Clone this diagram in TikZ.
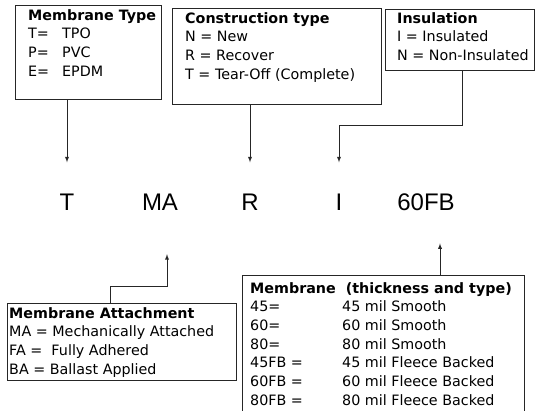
\documentclass[tikz,border=0pt]{standalone}
\usepackage{fontspec}
\setmainfont{DejaVu Sans}
\newfontfamily\codefont{Liberation Sans}
\usetikzlibrary{arrows,calc}

\tikzset{
  legend/.style={draw=black!85, line width=0.9pt, anchor=north west, inner sep=0pt},
  entry/.style={anchor=base west, inner sep=0pt, font=\fontsize{14.3}{18.7}\selectfont},
  code/.style={anchor=base, inner sep=0pt, font=\codefont\fontsize{24}{28}\selectfont},
  link/.style={draw=black!85, line width=0.9pt},
  pointer/.style={link, -latex}
}

\begin{document}
\begin{tikzpicture}[x=1pt,y=-1pt]
  \clip (0,0) rectangle (538,410);
  % the code letters
  \node[code] (t) at (67,210) {T};
  \node[code] (ma) at (160,210) {MA};
  \node[code] (r) at (250,210) {R};
  \node[code] (i) at (339,210) {I};
  \node[code] (fb) at (426,210) {60FB};
  % legend boxes
  \node[legend, minimum width=146pt, minimum height=94pt] (tbox) at (15,5) {};
  \node[legend, minimum width=209pt, minimum height=96pt] (rbox) at (172,8) {};
  \node[legend, minimum width=149pt, minimum height=61pt] (ibox) at (385,9) {};
  \node[legend, minimum width=229pt, minimum height=77pt] (mabox) at (7,303) {};
  \node[legend, minimum width=282pt, minimum height=150pt] (fbbox) at (242,275) {};
  % legend texts
  \node[entry] (ttext) at (28,20) {\begin{tabular}[t]{@{}p{34pt}@{}l@{}}
    \multicolumn{2}{@{}l@{}}{\textbf{Membrane Type}}\\
    T= & TPO\\ P= & PVC\\ E= & EPDM
  \end{tabular}};
  \node[entry] (rtext) at (185,23) {\begin{tabular}[t]{@{}l@{}}
    \textbf{Construction type}\\
    N = New\\ R = Recover\\ T = Tear-Off (Complete)
  \end{tabular}};
  \node[entry] (itext) at (397,23) {\begin{tabular}[t]{@{}l@{}}
    \textbf{Insulation}\\
    I = Insulated\\ N = Non-Insulated
  \end{tabular}};
  \node[entry] (matext) at (9,318) {\begin{tabular}[t]{@{}l@{}}
    \textbf{Membrane Attachment}\\
    MA = Mechanically Attached\\ FA = \ Fully Adhered\\ BA = Ballast Applied
  \end{tabular}};
  \node[entry] (fbtext) at (250,293) {\begin{tabular}[t]{@{}p{92pt}@{}l@{}}
    \multicolumn{2}{@{}l@{}}{\textbf{Membrane \ (thickness and type)}}\\
    45= & 45 mil Smooth\\ 60= & 60 mil Smooth\\ 80= & 80 mil Smooth\\
    45FB = & 45 mil Fleece Backed\\ 60FB = & 60 mil Fleece Backed\\
    80FB = & 80 mil Fleece Backed
  \end{tabular}};
  % connectors
  \draw[pointer] (tbox.south -| t) -- ([yshift=31pt]t.north);
  \draw[pointer] (rbox.south -| r) -- ([yshift=31pt]r.north);
  \draw[pointer] ($(ibox.south west)+(77,0)$) |- ($(i.north)+(0,-68)$) -- ([yshift=31pt]i.north);
  \draw[pointer] ($(mabox.north west)+(103,0)$) |- ($(ma.south)+(7,76)$) -- ($(ma.south)+(7,44)$);
  \draw[pointer] ($(fbbox.north west)+(198,0)$) -- ($(fb.south)+(14,33)$);
\end{tikzpicture}
\end{document}
